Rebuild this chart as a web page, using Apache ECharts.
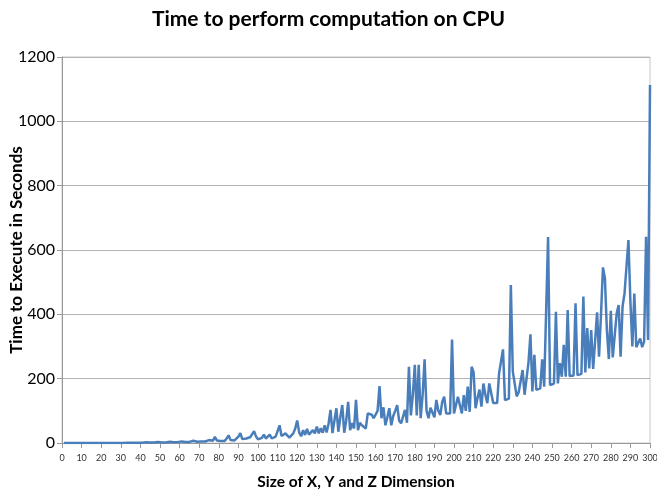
<!DOCTYPE html>
<html>
<head>
<meta charset="utf-8">
<script src="https://cdn.jsdelivr.net/npm/echarts@6/dist/echarts.min.js"></script>
<style>
html,body{margin:0;padding:0;background:#fff;}
#chart{width:657px;height:492px;}
</style>
</head>
<body>
<div id="chart"></div>
<script>
// Sizes 1..300 (x values)
const sizes = Array.from({length: 300}, (_, k) => k + 1);
// Execution time in seconds
const times = [
  0,0,0,0,0,0,0,0.01,0.01,0.01,
  0.02,0.02,0.03,0.03,0.04,0.05,0.06,0.07,0.08,0.09,
  0.1,0.12,0.14,0.16,0.18,0.2,0.23,0.25,0.28,0.31,
  0.34,0.4,0.42,0.5,0.5,0.6,0.6,1.2,0.7,1.5,
  0.9,1.0,2.1,1.1,1.2,2.5,1.4,1.4,3.0,1.5,
  1.7,3.2,1.9,2.0,4.1,2.2,2.4,4.5,2.6,2.7,
  5,3.0,3.2,6,3.4,3.6,7,3.9,4.0,9,
  4.3,8,4.6,5,9,5.2,7,19,8,5.9,
  6.2,12,6.6,14,24,9,10,7.8,14,20,
  31,12,9,14,10,18,12,37,20,11.5,
  13,16,26,14,13,26,14,15,20,18,
  55,22,17,30,24,17,22,30,45,70,
  33,21,40,25,44,26,28,40,30,51,
  30,46,32,55,33,60,103,31,70,108,
  35,80,118,32,70,128,40,62,45,134,
  40,63,55,60,45,92,90,88,77,80,
  100,177,77,111,55,80,108,55,84,100,
  118,70,61,60,103,63,237,86,150,243,
  86,243,77,150,260,100,77,110,95,80,
  134,100,87,128,144,92,95,92,322,92,
  95,144,144,92,149,100,175,97,237,220,
  108,140,166,113,185,150,124,185,185,124,
  124,124,217,217,291,133,135,138,491,222,
  222,145,158,158,227,150,155,250,338,160,
  274,165,165,170,260,175,180,640,180,183,
  185,408,185,248,206,305,206,413,208,208,
  210,434,211,213,215,455,219,357,232,351,
  230,230,406,268,400,546,512,350,261,411,
  266,266,403,429,268,424,465,460,631,440,
  300,465,298,300,325,298,315,641,320,1113
];
const xTicks = {min: 0, max: 300, step: 10};
const yTicks = {min: 0, max: 1200, step: 200};

const chart = echarts.init(document.getElementById('chart'), null, {renderer: 'canvas'});
const FONT = 'Lato, "Open Sans", sans-serif';
chart.setOption({
  animation: false,
  backgroundColor: '#ffffff',
  title: {
    text: 'Time to perform computation on CPU',
    left: 'center',
    top: 4,
    textStyle: {fontFamily: FONT, fontWeight: 'bold', fontSize: 21, color: '#000'}
  },
  grid: {
    left: 62, right: 7, top: 57, bottom: 49,
    containLabel: false,
    outerBoundsMode: 'none',
    show: true, borderColor: '#c8c8c8', borderWidth: 1
  },
  xAxis: {
    type: 'value',
    min: xTicks.min, max: xTicks.max, interval: xTicks.step,
    name: 'Size of X, Y and Z Dimension',
    nameLocation: 'middle',
    nameGap: 31,
    nameMoveOverlap: false,
    nameTextStyle: {fontFamily: FONT, fontWeight: 'bold', fontSize: 15.5, color: '#000'},
    axisLine: {show: true, lineStyle: {color: '#9a9a9a', width: 1}},
    axisTick: {show: true, inside: false, length: 5, lineStyle: {color: '#9a9a9a'}},
    axisLabel: {fontFamily: FONT, fontSize: 9, color: '#333', margin: 11},
    splitLine: {show: false}
  },
  yAxis: {
    type: 'value',
    min: yTicks.min, max: yTicks.max, interval: yTicks.step,
    name: 'Time to Execute in Seconds',
    nameLocation: 'middle',
    nameGap: 37,
    nameRotate: 90,
    nameMoveOverlap: false,
    nameTextStyle: {fontFamily: FONT, fontWeight: 'bold', fontSize: 17, color: '#000'},
    axisLine: {show: true, lineStyle: {color: '#9a9a9a', width: 1}},
    axisTick: {show: true, inside: false, length: 5, lineStyle: {color: '#9a9a9a'}},
    axisLabel: {fontFamily: FONT, fontSize: 16, color: '#000', margin: 7,
      formatter: v => String(v)},
    splitLine: {show: true, lineStyle: {color: '#b4b4b4', width: 1}}
  },
  series: [{
    type: 'line',
    data: sizes.map((s, k) => [s, times[k]]),
    showSymbol: false,
    symbol: 'none',
    lineStyle: {color: '#4a7ebb', width: 2.5},
    itemStyle: {color: '#4a7ebb'}
  }]
});
</script>
</body>
</html>
